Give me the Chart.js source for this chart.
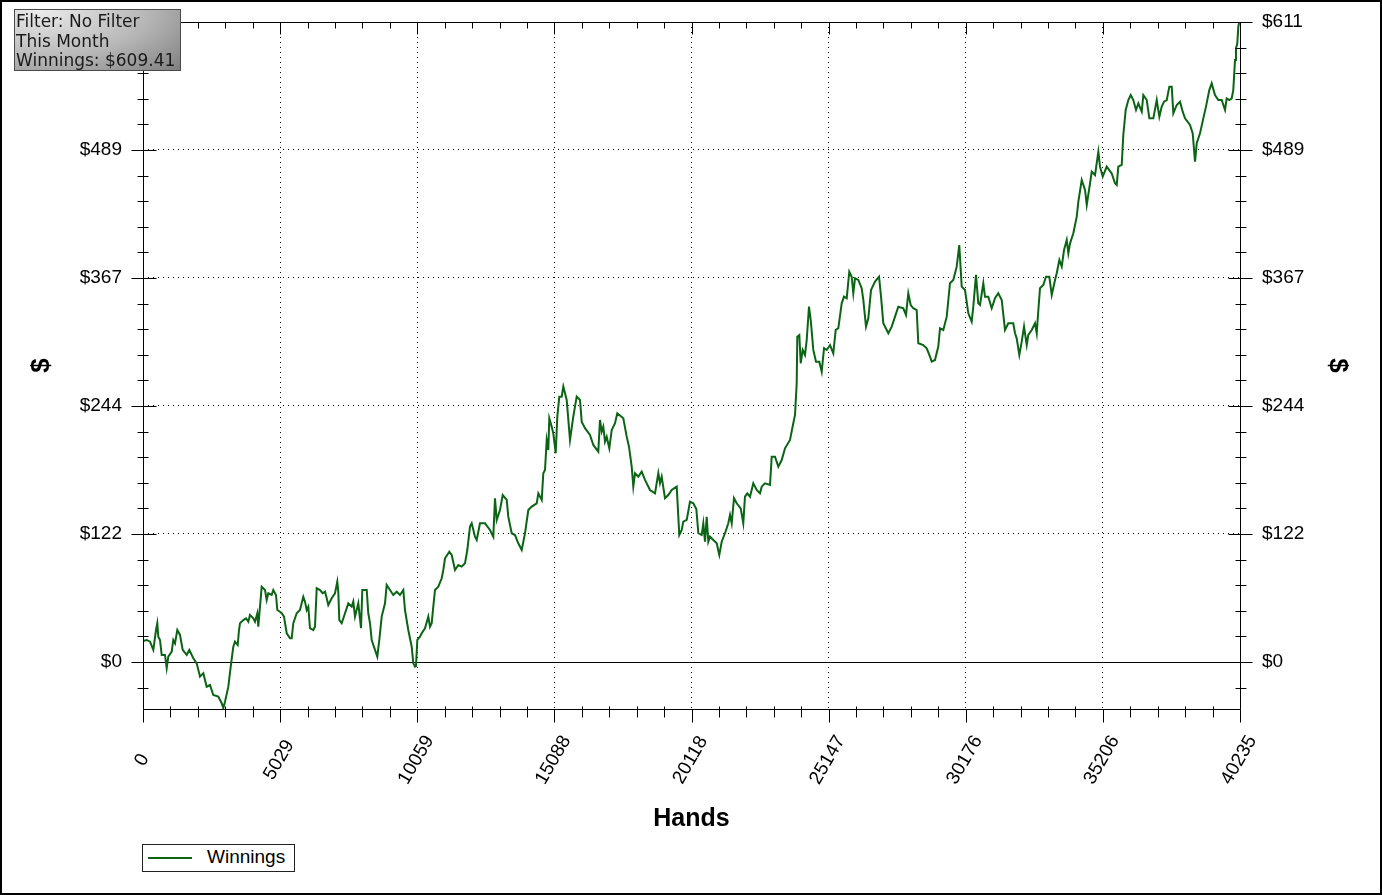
<!DOCTYPE html>
<html>
<head>
<meta charset="utf-8">
<script src="https://cdn.jsdelivr.net/npm/chart.js@4.4.1/dist/chart.umd.min.js"></script>
<style>
html,body{margin:0;padding:0;background:#fff;}
#wrap{position:relative;width:1382px;height:895px;overflow:hidden;background:#fff;}
canvas{display:block;}
#info{position:absolute;left:14px;top:9px;width:167px;height:62px;box-sizing:border-box;
  border:1px solid #4a4a4a;
  background:radial-gradient(ellipse 120% 150% at 15% 0%, #ececec 0%, #b6b6b6 55%, #7c7c7c 100%);
  font-family:"DejaVu Sans",Verdana,sans-serif;font-size:17px;line-height:19.5px;color:#1a1a1a;
  padding:2px 0 0 1px;white-space:nowrap;overflow:hidden;}
#legend{position:absolute;left:142px;top:844px;width:153px;height:28px;box-sizing:border-box;
  border:1px solid #222;background:#fff;}
#legend .swatch{position:absolute;left:5px;top:12px;width:44px;height:2px;}
#legend .txt{position:absolute;left:64px;top:2px;font-family:Arial,"Liberation Sans",sans-serif;
  font-size:19px;line-height:19px;color:#000;white-space:nowrap;}
</style>
</head>
<body>
<div id="wrap">
  <canvas id="c" width="1382" height="895"></canvas>
  <div id="info"></div>
  <div id="legend"></div>
</div>
<script>
// ---------- data ----------
const seriesLabel = 'Winnings';
const hands = [
  0,136,257,378,477,524,561,624,686,807,
  869,928,1053,1111,1174,1258,1357,1456,1603,1698,
  1845,1970,2091,2212,2336,2457,2578,2762,2886,2945,
  3008,3129,3217,3312,3374,3473,3521,3558,3679,3778,
  3862,3924,4045,4108,4192,4229,4291,4354,4475,4537,
  4596,4720,4779,4878,4926,5025,5087,5171,5271,5392,
  5454,5513,5637,5758,5879,5942,6004,6063,6125,6246,
  6308,6371,6492,6591,6675,6738,6796,6921,7042,7126,
  7163,7200,7288,7409,7530,7655,7713,7776,7897,7996,
  8044,8205,8263,8326,8388,8509,8594,8667,8755,8876,
  8938,9059,9180,9305,9426,9547,9609,9730,9855,9914,
  9976,10013,10061,10160,10222,10343,10464,10526,10589,10647,
  10710,10831,10956,11014,11077,11235,11322,11443,11565,11689,
  11810,11895,11993,12056,12177,12239,12360,12543,12727,12848,
  12910,12973,13094,13193,13340,13398,13523,13644,13765,13890,
  14011,14132,14257,14440,14499,14624,14682,14744,14807,14866,
  14902,14990,15049,15137,15196,15269,15357,15416,15478,15540,
  15661,15782,15907,16028,16090,16211,16395,16516,16699,16761,
  16824,16882,16945,17007,17103,17191,17312,17396,17616,17741,
  17825,17924,17983,18045,18166,18291,18412,18595,18779,18900,
  18962,19024,19145,19266,19391,19575,19670,19758,19817,19942,
  20062,20184,20295,20369,20492,20551,20613,20675,20734,20796,
  20917,21042,21137,21225,21346,21467,21530,21592,21676,21775,
  21922,22017,22079,22164,22263,22384,22509,22630,22692,22813,
  22997,23059,23180,23301,23426,23547,23730,23851,23914,23976,
  23998,24072,24123,24196,24281,24343,24427,24490,24585,24684,
  24805,24893,24978,25077,25198,25318,25407,25502,25627,25711,
  25810,25905,25993,26052,26115,26236,26360,26419,26518,26603,
  26702,26849,26996,27069,27152,27336,27461,27582,27703,27886,
  27985,28069,28157,28252,28377,28436,28619,28744,28865,28927,
  29048,29169,29232,29353,29478,29598,29719,29844,29939,30028,
  30149,30270,30394,30453,30552,30636,30699,30820,30882,31003,
  31128,31249,31370,31495,31616,31737,31920,31983,32045,32141,
  32229,32314,32413,32471,32596,32717,32780,32839,32900,33021,
  33120,33241,33330,33451,33513,33609,33697,33781,33880,33939,
  34001,34122,34247,34306,34430,34551,34614,34735,34797,34918,
  35039,35100,35200,35346,35530,35651,35713,35772,35897,35955,
  36043,36139,36227,36322,36421,36506,36631,36690,36814,36910,
  37056,37181,37277,37364,37449,37548,37643,37731,37790,37915,
  38035,38134,38218,38402,38501,38585,38648,38768,38889,38988,
  39109,39197,39318,39439,39564,39685,39747,39842,39930,39989,
  40052,40088,40136,40173,40209,40235
];
const winnings = [
  20,21,19.4,11.5,30.5,37,24,21,6.7,6.7,
  -6,5,9.9,21,17.8,30.5,25.8,11.5,6.7,11.5,
  3.5,-1.3,-14,-10.8,-23.6,-22,-31.5,-33.1,-39.4,-44,
  -37.9,-23.6,-4.5,14.6,19.4,16.2,30.5,37,40,41.7,
  38.5,44.9,41.7,38.5,46.5,33.7,52.8,71.9,68.7,59.2,
  65.6,64,68.7,64,49.6,48,46.5,43.3,27.4,22.6,
  22.6,37,46.5,49.6,62.3,57.6,49.6,52.8,32.2,30.5,
  33.7,70.4,68.7,65.6,67.1,60.8,54.4,60.8,65.6,76.7,
  67.1,40,37,46.5,56,52.8,57.6,43.3,56,32.2,
  68.7,68.7,46.5,37,21,11.5,5,21,43.3,56,
  73.5,68.7,64,67.1,64,68.7,49.6,30.5,14.6,-1.3,
  -4.5,-4,21,24.2,27.4,32.2,43.3,33.7,37,52.8,
  68.7,71.9,79.9,87.8,99,105.3,102.2,87.8,92.6,91,
  94.2,106.9,129.2,132.4,119.6,116.5,132.4,132.4,126,119.6,
  156.3,135.6,145.1,159.4,154.7,138.7,122.9,121.2,113.3,106.9,
  122.9,145.1,148.3,151.5,161,154.7,180.2,183.3,212,202.4,
  232.7,224.6,218.3,199.2,234.2,253.3,253.3,263,256.5,250.1,
  212,234.2,253.3,250.1,229.4,223.2,216.7,207.2,200.8,231,
  219.9,224.6,210.3,215.1,204,221.5,227.9,237.4,232.7,215.1,
  205.5,186.5,167.4,180.2,176.9,181.7,173.8,164.2,161,180.2,
  170.6,176.9,156.3,159.4,164.2,167.4,121.2,126,134,135.6,
  153,151.5,146,122.9,121.2,132.4,114.8,138.7,114.8,119.6,
  116.5,113.3,102.2,114.8,122.9,132.4,140.3,132.4,156.3,151.5,
  146.7,132.4,157.8,161,157.8,170.6,164.2,161,167.4,170.6,
  169,196,196,186.5,192.8,204,212,227.9,235.8,266.1,
  310.6,312.2,285.2,297.9,293.1,307.4,339.2,326.5,297.9,286.7,
  286.7,277.1,299.5,297.9,302.6,294.7,317,318.6,342.4,348.8,
  347.2,372.6,367.8,352,366.3,364.7,356.8,345.6,320.2,328.1,
  355.1,363.1,367.8,348.8,323.4,313.8,320.2,329.7,339.2,337.7,
  331.3,352,340.8,337.7,336,304.3,302.6,299.5,291.5,286.7,
  288.3,301.1,318.6,317,329.7,361.6,364.7,377.4,398.1,358.3,
  355.1,332.9,324.9,339.2,369.5,342.4,340.8,361.6,348.8,348.8,
  337.7,347.2,352,345.6,317,323.4,323.4,313.8,309,293.1,
  305.8,320.2,302.6,312.2,317,323.4,313.8,336,356.8,359.9,
  367.8,367.8,350.4,364.7,371.1,383.8,377.4,393.3,402.9,390.2,
  399.7,409.3,425.2,439.5,460.2,450.6,436.3,457,468.1,464.9,
  487.2,472.9,463.3,472.9,466.5,457,455.4,472.9,474.5,503.1,
  527,536.5,541.3,536.5,527,533.3,525.4,541.3,536.5,519,
  519,536.5,520.5,530.2,535,536.5,549.3,549.3,523.9,531.8,
  534.9,525.4,519,512.7,504.7,477.6,495.2,504.7,519,530.2,
  546,552.4,541.3,536.5,536.5,527,538.1,536.5,538.1,546,
  574.7,585.9,590.6,606.5,611,609.41
];
const xMin = 0, xMax = 40235;
const yMin = -44.9, yMax = 611;
const xMajorTicks = [0, 5029.375, 10058.75, 15088.125, 20117.5, 25146.875, 30176.25, 35205.625, 40235];
const xTickLabels = ['0','5029','10059','15088','20118','25147','30176','35206','40235'];
const yMajorTicks = [0, 122.2, 244.4, 366.6, 488.8, 611];
const yTickLabels = ['$0','$122','$244','$367','$489','$611'];
const infoLines = ['Filter: No Filter', 'This Month', 'Winnings: $609.41'];
const xTitle = 'Hands', yTitle = '$';

// ---------- styling ----------
const LINE = '#0a6414';
const FONT = 'Arial, "Liberation Sans", sans-serif';

function minorTicks(majors, parts, lo, hi) {
  const step = (majors[1] - majors[0]) / parts;
  let v = majors[0];
  while (v - step >= lo - 1e-6) v -= step;
  const out = [];
  for (; v <= hi + 1e-6; v += step) out.push(+v.toFixed(6));
  return out;
}
const xTicks = minorTicks(xMajorTicks, 5, xMin, xMax);
const yTicks = minorTicks(yMajorTicks, 5, yMin, yMax);
const majIdx = (v, arr, tol) => arr.findIndex(m => Math.abs(m - v) < tol);
const yLabel = v => { const k = majIdx(v, yMajorTicks, 0.5); return k >= 0 ? yTickLabels[k] : ''; };
const transparent = 'rgba(0,0,0,0)';

const decor = {
  id: 'decor',
  beforeDatasetsDraw(chart) {
    const {ctx, chartArea: a, scales: {y}} = chart;
    const py = Math.round(y.getPixelForValue(0)) + 0.5;
    ctx.save();
    ctx.strokeStyle = '#000'; ctx.lineWidth = 1;
    ctx.beginPath(); ctx.moveTo(a.left, py); ctx.lineTo(a.right, py); ctx.stroke();
    ctx.restore();
  },
  afterDraw(chart) {
    const {ctx, chartArea: a, scales: {x, y}} = chart;
    const L = Math.round(a.left) + 0.5, R = Math.round(a.right) + 0.5;
    const T = Math.round(a.top) + 0.5, B = Math.round(a.bottom) + 0.5;
    ctx.save();
    ctx.strokeStyle = '#000'; ctx.lineWidth = 1;
    ctx.beginPath();
    ctx.rect(L, T, R - L, B - T);
    y.ticks.forEach(t => {
      const p = Math.round(y.getPixelForValue(t.value)) + 0.5;
      const maj = majIdx(t.value, yMajorTicks, 0.5) >= 0;
      if (maj) { ctx.moveTo(L - 12, p); ctx.lineTo(L + 13, p); ctx.moveTo(R - 12, p); ctx.lineTo(R + 12, p); }
      else { ctx.moveTo(L - 6, p); ctx.lineTo(L + 5, p); ctx.moveTo(R - 5, p); ctx.lineTo(R + 6, p); }
    });
    x.ticks.forEach(t => {
      const p = Math.round(x.getPixelForValue(t.value)) + 0.5;
      const maj = majIdx(t.value, xMajorTicks, 1) >= 0;
      if (maj) { ctx.moveTo(p, B); ctx.lineTo(p, B + 13); ctx.moveTo(p, T); ctx.lineTo(p, T + 12); }
      else { ctx.moveTo(p, B - 3); ctx.lineTo(p, B + 8); ctx.moveTo(p, T); ctx.lineTo(p, T + 6); }
    });
    ctx.stroke();
    // rotated x tick labels, centred under each major tick
    ctx.fillStyle = '#000';
    ctx.font = '19px ' + FONT;
    ctx.textAlign = 'center'; ctx.textBaseline = 'middle';
    xMajorTicks.forEach((v, k) => {
      const p = x.getPixelForValue(v);
      ctx.save();
      ctx.translate(p - 1, a.bottom + 51);
      ctx.rotate(-60 * Math.PI / 180);
      ctx.fillText(xTickLabels[k], 0, 0);
      ctx.restore();
    });
    // outer frame
    ctx.lineWidth = 2;
    ctx.strokeRect(1, 1, chart.width - 2, chart.height - 2);
    ctx.restore();
  }
};

const yCommon = {
  type: 'linear', min: yMin, max: yMax,
  afterBuildTicks: s => { s.ticks = yTicks.map(v => ({value: v})); },
  border: { display: false, dash: [1, 4] }
};

const chart = new Chart(document.getElementById('c'), {
  type: 'line',
  data: {
    datasets: [{
      label: seriesLabel,
      data: hands.map((h, i) => ({x: h, y: winnings[i]})),
      borderColor: LINE, backgroundColor: LINE,
      borderWidth: 2, pointRadius: 0, tension: 0, fill: false
    }]
  },
  options: {
    responsive: false, animation: false, events: [],
    layout: { padding: { top: 22, left: 0, right: 0, bottom: 0 } },
    plugins: { legend: { display: false }, tooltip: { enabled: false }, title: { display: false } },
    scales: {
      x: {
        type: 'linear', position: 'bottom', min: xMin, max: xMax,
        afterBuildTicks: s => { s.ticks = xTicks.map(v => ({value: v})); },
        afterFit: s => { s.height = 186; },
        ticks: { display: false, autoSkip: false },
        grid: {
          color: c => (c.tick && majIdx(c.tick.value, xMajorTicks, 1) >= 0) ? '#000' : transparent,
          lineWidth: 1, drawTicks: false, tickLength: 0
        },
        border: { display: false, dash: [1, 4] },
        title: { display: true, text: xTitle, color: '#000',
          font: { family: FONT, size: 25, weight: 'bold' }, padding: { top: 0, bottom: 61 } }
      },
      y: Object.assign({}, yCommon, {
        position: 'left',
        afterFit: s => { s.width = 143; },
        ticks: { callback: v => yLabel(v), autoSkip: false, color: '#000', padding: 9,
          font: { family: FONT, size: 19 } },
        grid: {
          color: c => (c.tick && majIdx(c.tick.value, yMajorTicks, 0.5) > 0) ? '#000' : transparent,
          lineWidth: 1, drawTicks: true, tickLength: 12, tickColor: transparent
        },
        title: { display: true, text: yTitle, color: '#000',
          font: { family: FONT, size: 26, weight: 'bold' }, padding: { top: 26, bottom: 0 } }
      }),
      y2: Object.assign({}, yCommon, {
        position: 'right',
        afterFit: s => { s.width = 142; },
        ticks: { callback: v => yLabel(v), autoSkip: false, color: '#000', padding: 10,
          font: { family: FONT, size: 19 } },
        grid: { drawOnChartArea: false, drawTicks: true, tickLength: 12, tickColor: transparent },
        title: { display: true, text: yTitle, color: '#000',
          font: { family: FONT, size: 26, weight: 'bold' }, padding: { top: 29, bottom: 0 } }
      })
    }
  },
  plugins: [decor]
});

// info box
const info = document.getElementById('info');
infoLines.forEach(t => { const d = document.createElement('div'); d.textContent = t; info.appendChild(d); });

// legend built from the dataset
const lg = document.getElementById('legend');
chart.data.datasets.forEach(ds => {
  const sw = document.createElement('div'); sw.className = 'swatch'; sw.style.background = ds.borderColor;
  const tx = document.createElement('div'); tx.className = 'txt'; tx.textContent = ds.label;
  lg.appendChild(sw); lg.appendChild(tx);
});
</script>
</body>
</html>
